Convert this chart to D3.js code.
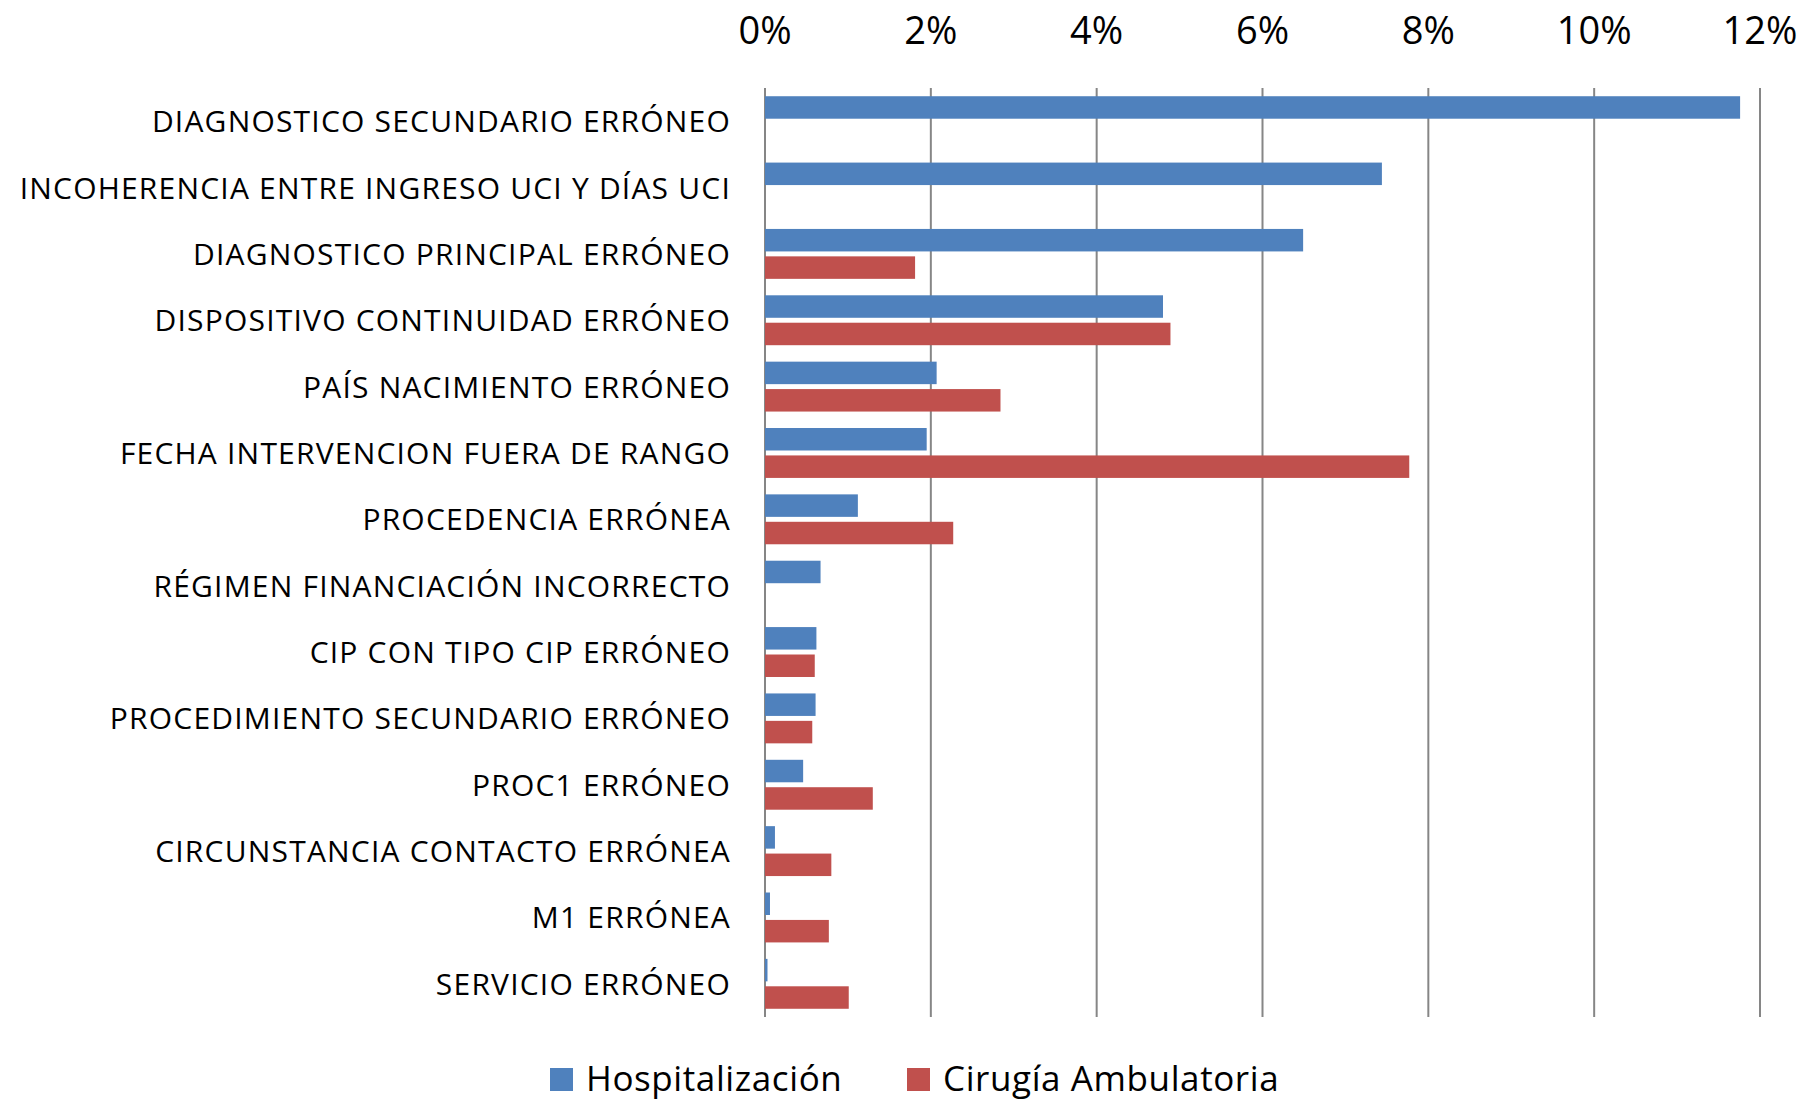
<!DOCTYPE html>
<html>
<head>
<meta charset="utf-8">
<script src="https://cdn.jsdelivr.net/npm/d3@7"></script>
<style>
  html, body { margin: 0; padding: 0; background: #fff; }
  svg { display: block; font-family: "Open Sans", sans-serif; }
</style>
</head>
<body>
<svg id="chart" width="1803" height="1100"></svg>
<script>
"use strict";

// categories, top to bottom
const categories = [
    "DIAGNOSTICO SECUNDARIO ERRÓNEO",
    "INCOHERENCIA ENTRE INGRESO UCI Y DÍAS UCI",
    "DIAGNOSTICO PRINCIPAL ERRÓNEO",
    "DISPOSITIVO CONTINUIDAD ERRÓNEO",
    "PAÍS NACIMIENTO ERRÓNEO",
    "FECHA INTERVENCION FUERA DE RANGO",
    "PROCEDENCIA ERRÓNEA",
    "RÉGIMEN FINANCIACIÓN INCORRECTO",
    "CIP CON TIPO CIP ERRÓNEO",
    "PROCEDIMIENTO SECUNDARIO ERRÓNEO",
    "PROC1 ERRÓNEO",
    "CIRCUNSTANCIA CONTACTO ERRÓNEA",
    "M1 ERRÓNEA",
    "SERVICIO ERRÓNEO"
];

const seriesNames = ["Hospitalización", "Cirugía Ambulatoria"];
const seriesColors = ["#4F81BD", "#C0504D"];

// values in %
const hospitalizacion = [11.76, 7.44, 6.49, 4.80, 2.07, 1.95, 1.12, 0.67, 0.62, 0.61, 0.46, 0.12, 0.06, 0.03];
const cirugia = [0, 0, 1.81, 4.89, 2.84, 7.77, 2.27, 0, 0.60, 0.57, 1.30, 0.80, 0.77, 1.01];

const tickValues = [0, 2, 4, 6, 8, 10, 12];

const svg = d3.select("#chart");

const x = d3.scaleLinear().domain([0, 12]).range([765, 1760]);
const y = d3.scaleBand().domain(categories).range([88, 1017]).padding(0);
const ySub = d3.scaleBand().domain(seriesNames).range([0, y.bandwidth()])
    .paddingInner(0.18).paddingOuter(0.3);

// gridlines
svg.append("g")
    .selectAll("line")
    .data(tickValues)
    .join("line")
    .attr("x1", d => x(d))
    .attr("x2", d => x(d))
    .attr("y1", 88)
    .attr("y2", 1017)
    .attr("stroke", "#868686")
    .attr("stroke-width", 2);

// top axis labels
svg.append("g")
    .selectAll("text")
    .data(tickValues)
    .join("text")
    .attr("x", d => x(d))
    .attr("y", 44)
    .attr("text-anchor", "middle")
    .style("font-size", "38px")
    .attr("fill", "#000")
    .text(d => d + "%");

// bars
const rows = categories.map((c, i) => ({
    cat: c,
    vals: [hospitalizacion[i], cirugia[i]]
}));

const groups = svg.append("g")
    .selectAll("g")
    .data(rows)
    .join("g")
    .attr("transform", d => `translate(0,${y(d.cat)})`);

groups.selectAll("rect")
    .data(d => d.vals.map((v, k) => ({ v: v, k: k })).filter(e => e.v > 0))
    .join("rect")
    .attr("x", x(0))
    .attr("y", d => ySub(seriesNames[d.k]))
    .attr("width", d => x(d.v) - x(0))
    .attr("height", ySub.bandwidth())
    .attr("fill", d => seriesColors[d.k]);

// category labels
svg.append("g")
    .selectAll("text")
    .data(categories)
    .join("text")
    .attr("x", 731)
    .attr("y", d => y(d) + y.bandwidth() / 2 + 11)
    .attr("text-anchor", "end")
    .style("font-size", "30px")
    .style("letter-spacing", "1.2px")
    .attr("fill", "#000")
    .text(d => d);

// legend
const legendX = [550, 907];
const legend = svg.append("g")
    .selectAll("g")
    .data(seriesNames)
    .join("g")
    .attr("transform", (d, i) => `translate(${legendX[i]},1068)`);

legend.append("rect")
    .attr("width", 23)
    .attr("height", 23)
    .attr("fill", (d, i) => seriesColors[i]);

legend.append("text")
    .attr("x", 36)
    .attr("y", 23)
    .style("font-size", "35px")
    .style("letter-spacing", "0.6px")
    .attr("fill", "#000")
    .text(d => d);
</script>
</body>
</html>
